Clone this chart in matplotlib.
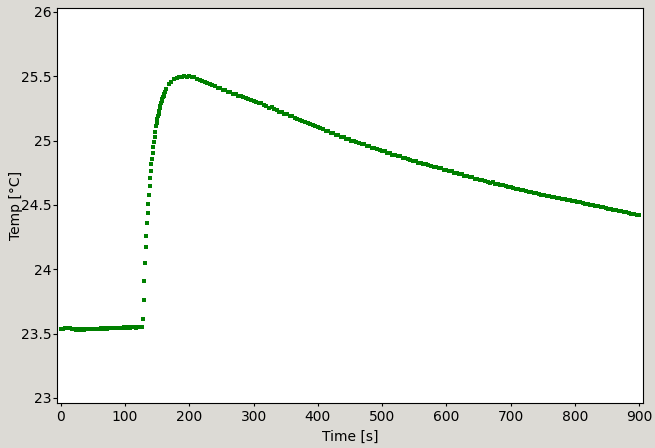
import matplotlib
matplotlib.use("Agg")
import matplotlib.pyplot as plt
import numpy as np
from matplotlib.ticker import FormatStrFormatter

# sample times [s]: 3 s steps before heating, 1 s during the jump, 4 s after
time_base = np.arange(0, 127, 3)
time_rise = np.arange(127, 163, 1)
time_decay = np.arange(164, 901, 4)

temp_base = [
    23.532, 23.538, 23.541, 23.545, 23.543, 23.540, 23.536, 23.534, 23.531, 23.533,
    23.530, 23.534, 23.531, 23.535, 23.533, 23.537, 23.534, 23.538, 23.536, 23.539,
    23.537, 23.540, 23.538, 23.541, 23.539, 23.542, 23.540, 23.543, 23.541, 23.545,
    23.542, 23.546, 23.544, 23.547, 23.545, 23.548, 23.544, 23.547, 23.549, 23.546,
    23.550, 23.548, 23.551,
]

temp_rise = [
    23.552, 23.61, 23.76, 23.91, 24.05, 24.17, 24.26, 24.36, 24.44, 24.51,
    24.58, 24.65, 24.71, 24.76, 24.82, 24.86, 24.90, 24.95, 24.99, 25.03,
    25.07, 25.11, 25.14, 25.17, 25.19, 25.21, 25.23, 25.25, 25.27, 25.29,
    25.31, 25.32, 25.34, 25.35, 25.365, 25.38,
]

temp_decay = [
    25.400, 25.436, 25.455, 25.476, 25.483, 25.491, 25.490, 25.499, 25.497, 25.503,
    25.494, 25.491, 25.478, 25.473, 25.459, 25.457, 25.444, 25.442, 25.428, 25.425,
    25.409, 25.407, 25.393, 25.391, 25.378, 25.376, 25.364, 25.363, 25.350, 25.348,
    25.336, 25.334, 25.321, 25.318, 25.306, 25.303, 25.291, 25.289, 25.274, 25.270,
    25.256, 25.257, 25.242, 25.239, 25.224, 25.221, 25.206, 25.204, 25.189, 25.187,
    25.173, 25.170, 25.157, 25.155, 25.141, 25.139, 25.125, 25.124, 25.110, 25.108,
    25.094, 25.091, 25.077, 25.075, 25.061, 25.058, 25.044, 25.042, 25.028, 25.027,
    25.013, 25.011, 24.999, 24.998, 24.985, 24.984, 24.972, 24.970, 24.959, 24.958,
    24.945, 24.944, 24.931, 24.930, 24.917, 24.916, 24.903, 24.902, 24.891, 24.890,
    24.878, 24.877, 24.865, 24.864, 24.853, 24.852, 24.840, 24.839, 24.829, 24.828,
    24.818, 24.817, 24.807, 24.806, 24.796, 24.795, 24.785, 24.784, 24.774, 24.773,
    24.762, 24.761, 24.750, 24.750, 24.739, 24.738, 24.728, 24.727, 24.717, 24.716,
    24.705, 24.705, 24.694, 24.693, 24.683, 24.681, 24.671, 24.676, 24.666, 24.661,
    24.656, 24.651, 24.646, 24.641, 24.637, 24.632, 24.627, 24.622, 24.617, 24.613,
    24.608, 24.603, 24.598, 24.594, 24.589, 24.584, 24.580, 24.575, 24.571, 24.567,
    24.563, 24.559, 24.555, 24.551, 24.547, 24.543, 24.539, 24.535, 24.531, 24.527,
    24.523, 24.519, 24.515, 24.510, 24.506, 24.502, 24.498, 24.493, 24.489, 24.484,
    24.480, 24.475, 24.471, 24.466, 24.462, 24.458, 24.453, 24.449, 24.445, 24.441,
    24.436, 24.432, 24.428, 24.424, 24.420,
]

time_s = np.concatenate([time_base, time_rise, time_decay])
temp_c = np.array(temp_base + temp_rise + temp_decay)

fig = plt.figure(figsize=(6.55, 4.48), dpi=100, facecolor="#dcdad5")
ax = fig.add_axes([0.087, 0.1004, 0.8947, 0.8817])
ax.set_facecolor("white")

ax.plot(time_s, temp_c, linestyle="none", marker="s", markersize=2.8,
        color="#008000", markeredgewidth=0)

ax.set_xlim(-6, 906)
ax.set_ylim(22.96, 26.03)
ax.set_xticks(np.arange(0, 901, 100))
ax.set_yticks(np.arange(23, 26.01, 0.5))
ax.yaxis.set_major_formatter(FormatStrFormatter("%g"))
ax.tick_params(axis="y", length=3, pad=0.8)
ax.tick_params(axis="x", length=2, pad=3)
ax.set_xlabel("Time [s]", labelpad=4)
ax.set_ylabel("Temp [°C]", labelpad=-1.5)

fig.savefig("out.png", dpi=100, facecolor=fig.get_facecolor())
